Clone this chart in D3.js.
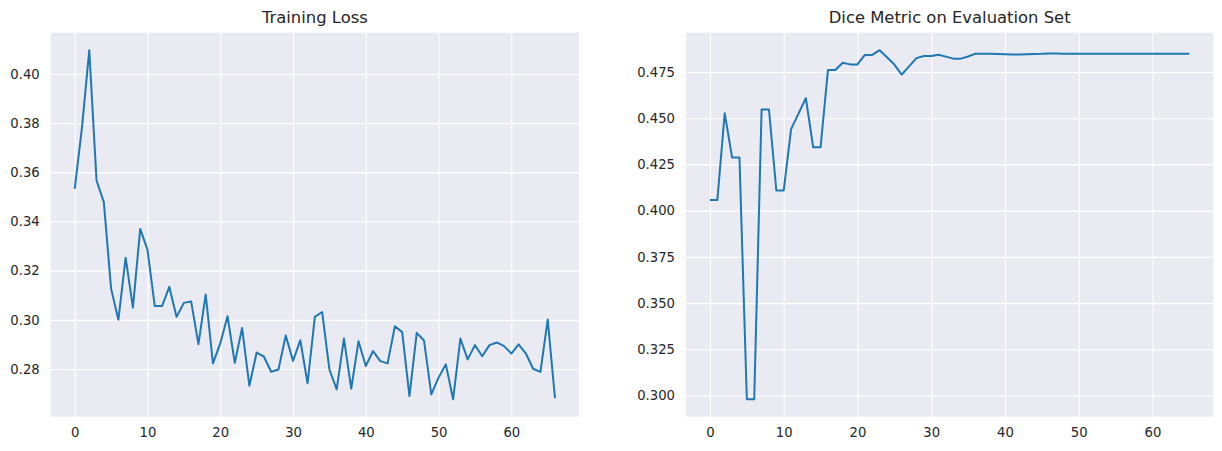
<!DOCTYPE html>
<html>
<head>
<meta charset="utf-8">
<script src="https://cdn.jsdelivr.net/npm/d3@7"></script>
<style>
  html, body { margin: 0; padding: 0; background: #ffffff; }
  svg { display: block; }
  text { font-family: "DejaVu Sans", sans-serif; fill: #262626; }
</style>
</head>
<body>
<svg id="chart" width="1222" height="451"></svg>
<script>
// ---- Data ----
const lossTitle = "Training Loss";
const diceTitle = "Dice Metric on Evaluation Set";

const trainingLoss = [
  0.3533, 0.3783, 0.4097, 0.3567, 0.3479, 0.3127, 0.3000, 0.3253, 0.3050, 0.3370,
  0.3285, 0.3056, 0.3056, 0.3134, 0.3012, 0.3069, 0.3075, 0.2901, 0.3103, 0.2823,
  0.2904, 0.3015, 0.2825, 0.2967, 0.2732, 0.2867, 0.2850, 0.2789, 0.2798, 0.2936,
  0.2833, 0.2917, 0.2742, 0.3012, 0.3032, 0.2798, 0.2717, 0.2924, 0.2720, 0.2913,
  0.2812, 0.2873, 0.2832, 0.2823, 0.2974, 0.2950, 0.2690, 0.2947, 0.2916, 0.2697,
  0.2765, 0.2819, 0.2677, 0.2924, 0.2839, 0.2897, 0.2852, 0.2897, 0.2908, 0.2893,
  0.2863, 0.2900, 0.2863, 0.2801, 0.2788, 0.3001, 0.2681
];

const diceMetric = [
  0.4057, 0.4057, 0.4527, 0.4287, 0.4287, 0.2980, 0.2980, 0.4547, 0.4547, 0.4109,
  0.4109, 0.4441, 0.4525, 0.4608, 0.4343, 0.4343, 0.4761, 0.4761, 0.4800, 0.4791,
  0.4791, 0.4842, 0.4842, 0.4868, 0.4830, 0.4790, 0.4736, 0.4780, 0.4825, 0.4836,
  0.4836, 0.4843, 0.4833, 0.4822, 0.4822, 0.4834, 0.4849, 0.4848, 0.4848, 0.4847,
  0.4846, 0.4845, 0.4845, 0.4846, 0.4847, 0.4848, 0.4850, 0.4850, 0.4849, 0.4848,
  0.4848, 0.4848, 0.4848, 0.4848, 0.4848, 0.4848, 0.4848, 0.4848, 0.4848, 0.4848,
  0.4848, 0.4848, 0.4848, 0.4848, 0.4848, 0.4848
];

const xTicks = [0, 10, 20, 30, 40, 50, 60];
const lossYTicks = [0.28, 0.30, 0.32, 0.34, 0.36, 0.38, 0.40];
const diceYTicks = [0.300, 0.325, 0.350, 0.375, 0.400, 0.425, 0.450, 0.475];

// ---- Layout ----
const svg = d3.select("#chart");
const panels = [
  { title: lossTitle, data: trainingLoss, yTicks: lossYTicks, fmt: d3.format(".2f"),
    left: 50.7, right: 579, top: 32.7, bottom: 416.7 },
  { title: diceTitle, data: diceMetric, yTicks: diceYTicks, fmt: d3.format(".3f"),
    left: 686, right: 1213.3, top: 32.7, bottom: 416.7 }
];

function padded(lo, hi) {
  const m = (hi - lo) * 0.05;
  return [lo - m, hi + m];
}

panels.forEach(p => {
  const n = p.data.length;
  const x = d3.scaleLinear().domain(padded(0, n - 1)).range([p.left, p.right]);
  const y = d3.scaleLinear().domain(padded(d3.min(p.data), d3.max(p.data))).range([p.bottom, p.top]);

  const g = svg.append("g");
  g.append("rect")
    .attr("x", p.left).attr("y", p.top)
    .attr("width", p.right - p.left).attr("height", p.bottom - p.top)
    .attr("fill", "#EAEAF2");

  const xAxis = d3.axisBottom(x).tickValues(xTicks).tickSize(-(p.bottom - p.top)).tickPadding(11).tickFormat(d3.format("d"));
  const xg = g.append("g").attr("transform", `translate(0,${p.bottom})`).call(xAxis);
  xg.select(".domain").remove();
  xg.selectAll("line").attr("stroke", "#ffffff").attr("stroke-width", 1.1);
  xg.selectAll("text").attr("font-size", 13.2).attr("fill", "#262626").attr("font-family", "DejaVu Sans, sans-serif");

  const yAxis = d3.axisLeft(y).tickValues(p.yTicks).tickSize(-(p.right - p.left)).tickPadding(11).tickFormat(p.fmt);
  const yg = g.append("g").attr("transform", `translate(${p.left},0)`).call(yAxis);
  yg.select(".domain").remove();
  yg.selectAll("line").attr("stroke", "#ffffff").attr("stroke-width", 1.1);
  yg.selectAll("text").attr("font-size", 13.2).attr("fill", "#262626").attr("font-family", "DejaVu Sans, sans-serif");

  const line = d3.line().x((d, i) => x(i)).y(d => y(d));
  g.append("path")
    .datum(p.data)
    .attr("d", line)
    .attr("fill", "none")
    .attr("stroke", "#1f77b4")
    .attr("stroke-width", 2)
    .attr("stroke-linejoin", "round")
    .attr("stroke-linecap", "butt");

  g.append("text")
    .attr("x", (p.left + p.right) / 2)
    .attr("y", 23)
    .attr("text-anchor", "middle")
    .attr("font-size", 16.4)
    .text(p.title);
});
</script>
</body>
</html>
